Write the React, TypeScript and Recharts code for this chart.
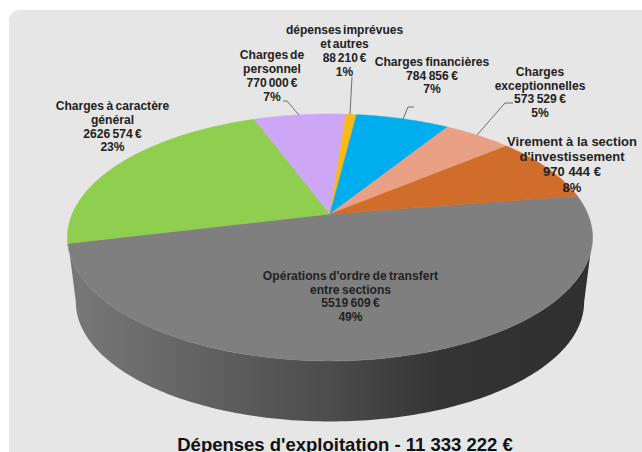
import { PieChart, Pie } from "recharts";

const sliceNames = [
  ["Opérations d'ordre de transfert", "entre sections"],
  ["Charges à caractère", "général"],
  ["Charges de", "personnel"],
  ["dépenses imprévues", "et autres"],
  ["Charges financières"],
  ["Charges", "exceptionnelles"],
  ["Virement à la section", "d'investissement"],
];
const sliceValues = [5519609, 2626574, 770000, 88210, 784856, 573529, 970444];
const valueLabels = ["5519 609 €", "2626 574 €", "770 000 €", "88 210 €", "784 856 €", "573 529 €", "970 444 €"];
const percentLabels = ["49%", "23%", "7%", "1%", "7%", "5%", "8%"];
const sliceColors = ["#7f7f7f", "#8fce4f", "#cda6f6", "#fdb913", "#00aeef", "#e9a084", "#d06d2a"];
const chartTitle = "Dépenses d'exploitation - 11 333 222 €";

const data = sliceValues.map((value, i) => ({ name: sliceNames[i].join(" "), value, fill: sliceColors[i] }));

// label placement, same order as the slices: centre x, first baseline, line step
const labelLayout = [
  { x: 350.5, y: 280, step: 13.7, size: 12.1, ws: -1 },
  { x: 112.5, y: 110, step: 13.8, size: 12.1, ws: -1 },
  { x: 272, y: 59, step: 14, size: 12.1, ws: -1.5 },
  { x: 344.5, y: 34, step: 13.9, size: 12, ws: -1.5 },
  { x: 432, y: 66, step: 13.7, size: 12.1, ws: -1 },
  { x: 540, y: 76, step: 13.7, size: 12.1, ws: -1 },
  { x: 572, y: 146, step: 15.2, size: 13, ws: 0 },
];
const leaderLines: Record<number, string> = {
  2: "283,101 287,101 299,115",
  3: "352,77 350,114",
  4: "414,107 408,107 403,119",
  5: "513,103 505,103 477,135",
};

// the 3D pie is a flat pie seen in perspective, apex sits above the ellipse centre
const TILT = 0.19;
const WIDTH_RATIO = 2.166;
const DEPTH = 64.5;

function rimPoint(cx: number, cy: number, r: number, angle: number, scale = 1, drop = 0) {
  const a = ((90 - angle) * Math.PI) / 180;
  const u = Math.sin(a);
  const v = Math.cos(a);
  const d = 1 + TILT * v;
  const ey = cy + (r * TILT) / (1 - TILT * TILT);
  const x = cx + (r * WIDTH_RATIO * u) / d;
  const y = cy - (r * v) / d;
  return [cx + (x - cx) * scale, ey + (y - ey) * scale + drop];
}

function arcPoints(cx: number, cy: number, r: number, from: number, to: number, scale = 1, drop = 0) {
  const n = Math.max(2, Math.ceil(Math.abs(to - from)));
  const pts: string[] = [];
  for (let i = 0; i <= n; i++) {
    const p = rimPoint(cx, cy, r, from + ((to - from) * i) / n, scale, drop);
    pts.push(p[0].toFixed(2) + "," + p[1].toFixed(2));
  }
  return pts;
}

function PerspectiveSector(props: any) {
  const { cx, cy, outerRadius, startAngle, endAngle, fill, index } = props;
  const top = [cx + "," + cy, ...arcPoints(cx, cy, outerRadius, startAngle, endAngle)].join(" ");
  return (
    <g>
      {index === 0 && (
        <polygon
          fill="url(#wallGrad)"
          points={[
            ...arcPoints(cx, cy, outerRadius, -18, -162),
            ...arcPoints(cx, cy, outerRadius, -169, -11, 0.968, DEPTH),
          ].join(" ")}
        />
      )}
      <polygon points={top} fill={fill} stroke={fill} strokeWidth={0.5} />
    </g>
  );
}

function SliceLabel({ index }: any) {
  const l = labelLayout[index];
  const lines = [...sliceNames[index], valueLabels[index], percentLabels[index]];
  return (
    <g>
      {leaderLines[index] && <polyline points={leaderLines[index]} fill="none" stroke="#6e6e6e" strokeWidth={1} />}
      <text
        textAnchor="middle"
        fontFamily="'Liberation Sans', Arial, sans-serif"
        fontWeight={700}
        fontSize={l.size}
        fill="#222"
        wordSpacing={l.ws}
      >
        {lines.map((t, i) => (
          <tspan key={i} x={l.x} y={l.y + i * l.step}>
            {t}
          </tspan>
        ))}
      </text>
    </g>
  );
}

export default function App() {
  return (
    <div style={{ position: "absolute", left: 0, top: 0, width: 642, height: 452, overflow: "hidden", background: "#fff" }}>
      <div style={{ position: "absolute", left: 9, top: 10, width: 700, height: 500, background: "#e6e6e6", borderRadius: 10 }} />
      <div style={{ position: "absolute", left: 0, top: 0 }}>
        <PieChart width={642} height={452} margin={{ top: 0, right: 0, bottom: 0, left: 0 }}>
          <defs>
            <linearGradient id="wallGrad" x1="0" y1="0" x2="1" y2="0">
              <stop offset="0%" stopColor="#787878" />
              <stop offset="50%" stopColor="#4c4c4c" />
              <stop offset="72%" stopColor="#333333" />
              <stop offset="100%" stopColor="#303030" />
            </linearGradient>
          </defs>
          <Pie
            data={data}
            dataKey="value"
            cx={330}
            cy={214}
            outerRadius={119}
            startAngle={9}
            endAngle={-351}
            paddingAngle={0}
            stroke="none"
            isAnimationActive={false}
            shape={PerspectiveSector}
            label={SliceLabel}
            labelLine={false}
          />
          <text
            x={345}
            y={451}
            textAnchor="middle"
            fontFamily="'Liberation Sans', Arial, sans-serif"
            fontSize={18.5}
            fontWeight={700}
            fill="#111"
          >
            {chartTitle}
          </text>
        </PieChart>
      </div>
    </div>
  );
}
